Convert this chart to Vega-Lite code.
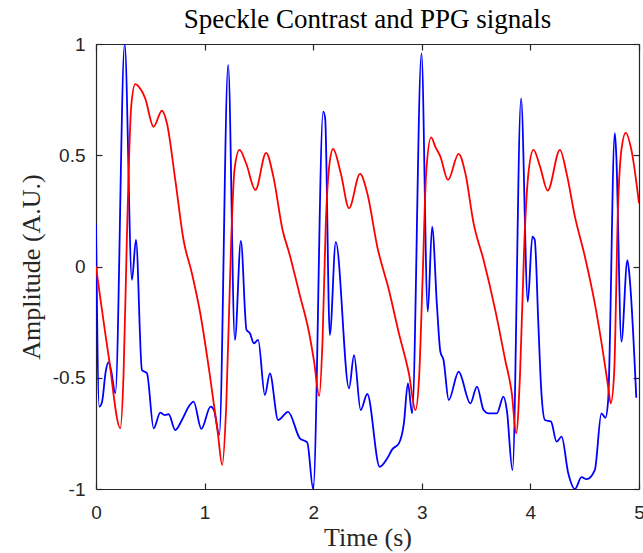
{
  "$schema": "https://vega.github.io/schema/vega-lite/v6.json",
  "width": 543,
  "height": 445,
  "autosize": {"type": "none"},
  "padding": {"left": 96, "top": 44, "right": 4, "bottom": 64},
  "background": "white",
  "title": {"text": "Speckle Contrast and PPG signals", "font": "Liberation Serif", "fontSize": 27, "fontWeight": "normal", "color": "#000000", "anchor": "middle", "frame": "group", "offset": 1},
  "config": {
    "view": {"stroke": null},
    "axis": {"domainColor": "#262626", "domainWidth": 1.2, "tickColor": "#262626", "tickWidth": 1.2, "tickSize": -6, "labelFlush": false, "labelColor": "#262626", "labelFont": "Liberation Sans", "labelFontSize": 19, "grid": false, "titleFont": "Liberation Serif", "titleFontSize": 26, "titleFontWeight": "normal", "titleColor": "#262626"}
  },
  "datasets": {
    "speckle": [
      {"t": 0, "v": 0.19}, {"t": 0.03, "v": -0.63}, {"t": 0.055, "v": -0.61}, {"t": 0.09, "v": -0.47}, {"t": 0.117, "v": -0.43}, {"t": 0.14, "v": -0.47}, {"t": 0.178, "v": -0.57},
      {"t": 0.264, "v": 1.0}, {"t": 0.331, "v": -0.06}, {"t": 0.368, "v": 0.12}, {"t": 0.423, "v": -0.465}, {"t": 0.469, "v": -0.48}, {"t": 0.531, "v": -0.727},
      {"t": 0.592, "v": -0.657}, {"t": 0.632, "v": -0.668}, {"t": 0.669, "v": -0.664}, {"t": 0.73, "v": -0.735}, {"t": 0.791, "v": -0.69}, {"t": 0.853, "v": -0.63},
      {"t": 0.899, "v": -0.607}, {"t": 0.97, "v": -0.73}, {"t": 1.055, "v": -0.63}, {"t": 1.086, "v": -0.645}, {"t": 1.135, "v": -0.757}, {"t": 1.217, "v": 0.906},
      {"t": 1.279, "v": -0.33}, {"t": 1.334, "v": 0.115}, {"t": 1.386, "v": -0.285}, {"t": 1.417, "v": -0.3}, {"t": 1.454, "v": -0.345}, {"t": 1.493, "v": -0.33},
      {"t": 1.555, "v": -0.578}, {"t": 1.601, "v": -0.48}, {"t": 1.677, "v": -0.69}, {"t": 1.769, "v": -0.653}, {"t": 1.877, "v": -0.772}, {"t": 1.945, "v": -0.79},
      {"t": 2.0, "v": -1.0}, {"t": 2.092, "v": 0.696}, {"t": 2.11, "v": 0.667}, {"t": 2.153, "v": -0.308}, {"t": 2.208, "v": 0.111}, {"t": 2.33, "v": -0.548},
      {"t": 2.376, "v": -0.398}, {"t": 2.437, "v": -0.645}, {"t": 2.498, "v": -0.573}, {"t": 2.612, "v": -0.9}, {"t": 2.682, "v": -0.862}, {"t": 2.728, "v": -0.822},
      {"t": 2.789, "v": -0.795}, {"t": 2.835, "v": -0.705}, {"t": 2.872, "v": -0.525}, {"t": 2.911, "v": -0.66}, {"t": 2.997, "v": 0.958}, {"t": 3.055, "v": -0.203},
      {"t": 3.095, "v": 0.179}, {"t": 3.14, "v": -0.18}, {"t": 3.171, "v": -0.383}, {"t": 3.2, "v": -0.42}, {"t": 3.248, "v": -0.6}, {"t": 3.339, "v": -0.473},
      {"t": 3.447, "v": -0.615}, {"t": 3.508, "v": -0.54}, {"t": 3.569, "v": -0.645}, {"t": 3.615, "v": -0.66}, {"t": 3.691, "v": -0.66}, {"t": 3.752, "v": -0.585},
      {"t": 3.783, "v": -0.645}, {"t": 3.835, "v": -0.915}, {"t": 3.914, "v": 0.756}, {"t": 3.976, "v": -0.158}, {"t": 4.018, "v": 0.134}, {"t": 4.04, "v": 0.12},
      {"t": 4.073, "v": -0.255}, {"t": 4.098, "v": -0.54}, {"t": 4.134, "v": -0.69}, {"t": 4.19, "v": -0.697}, {"t": 4.241, "v": -0.787}, {"t": 4.287, "v": -0.765},
      {"t": 4.349, "v": -0.93}, {"t": 4.41, "v": -1.0}, {"t": 4.471, "v": -0.947}, {"t": 4.517, "v": -0.956}, {"t": 4.593, "v": -0.915}, {"t": 4.654, "v": -0.66},
      {"t": 4.691, "v": -0.68}, {"t": 4.716, "v": -0.6}, {"t": 4.777, "v": 0.599}, {"t": 4.79, "v": 0.51}, {"t": 4.838, "v": -0.338}, {"t": 4.893, "v": 0.029},
      {"t": 4.91, "v": -0.03}, {"t": 4.975, "v": -0.59}
    ],
    "ppg": [
      {"t": 0.0, "v": 0.0}, {"t": 0.117, "v": -0.405}, {"t": 0.224, "v": -0.727}, {"t": 0.254, "v": -0.48}, {"t": 0.284, "v": 0.12}, {"t": 0.324, "v": 0.718},
      {"t": 0.361, "v": 0.82}, {"t": 0.416, "v": 0.793}, {"t": 0.453, "v": 0.756}, {"t": 0.53, "v": 0.628}, {"t": 0.607, "v": 0.7}, {"t": 0.653, "v": 0.644},
      {"t": 0.73, "v": 0.389}, {"t": 0.806, "v": 0.119}, {"t": 0.883, "v": -0.03}, {"t": 0.96, "v": -0.21}, {"t": 1.046, "v": -0.48}, {"t": 1.122, "v": -0.75},
      {"t": 1.162, "v": -0.892}, {"t": 1.199, "v": -0.63}, {"t": 1.245, "v": 0.12}, {"t": 1.275, "v": 0.434}, {"t": 1.321, "v": 0.524}, {"t": 1.382, "v": 0.464},
      {"t": 1.468, "v": 0.344}, {"t": 1.566, "v": 0.511}, {"t": 1.633, "v": 0.404}, {"t": 1.718, "v": 0.164}, {"t": 1.78, "v": 0.059}, {"t": 1.872, "v": -0.12},
      {"t": 1.963, "v": -0.3}, {"t": 2.009, "v": -0.43}, {"t": 2.055, "v": -0.582}, {"t": 2.086, "v": -0.33}, {"t": 2.116, "v": 0.194}, {"t": 2.147, "v": 0.449},
      {"t": 2.183, "v": 0.528}, {"t": 2.254, "v": 0.419}, {"t": 2.33, "v": 0.262}, {"t": 2.431, "v": 0.416}, {"t": 2.498, "v": 0.329}, {"t": 2.59, "v": 0.089},
      {"t": 2.697, "v": -0.106}, {"t": 2.789, "v": -0.3}, {"t": 2.881, "v": -0.48}, {"t": 2.942, "v": -0.645}, {"t": 2.975, "v": -0.5}, {"t": 3.009, "v": -0.03},
      {"t": 3.04, "v": 0.419}, {"t": 3.086, "v": 0.58}, {"t": 3.125, "v": 0.538}, {"t": 3.171, "v": 0.494}, {"t": 3.241, "v": 0.389}, {"t": 3.339, "v": 0.506},
      {"t": 3.401, "v": 0.419}, {"t": 3.477, "v": 0.194}, {"t": 3.569, "v": 0.029}, {"t": 3.676, "v": -0.195}, {"t": 3.768, "v": -0.42}, {"t": 3.829, "v": -0.57},
      {"t": 3.869, "v": -0.75}, {"t": 3.905, "v": -0.48}, {"t": 3.945, "v": 0.12}, {"t": 3.982, "v": 0.42}, {"t": 4.028, "v": 0.524}, {"t": 4.089, "v": 0.449},
      {"t": 4.159, "v": 0.341}, {"t": 4.272, "v": 0.524}, {"t": 4.333, "v": 0.419}, {"t": 4.41, "v": 0.224}, {"t": 4.502, "v": 0.044}, {"t": 4.593, "v": -0.166},
      {"t": 4.67, "v": -0.39}, {"t": 4.716, "v": -0.54}, {"t": 4.74, "v": -0.615}, {"t": 4.771, "v": -0.48}, {"t": 4.807, "v": 0.269}, {"t": 4.838, "v": 0.524},
      {"t": 4.878, "v": 0.601}, {"t": 4.93, "v": 0.524}, {"t": 5.0, "v": 0.284}
    ]
  },
  "layer": [
    {
      "data": {"name": "speckle"},
      "mark": {"type": "line", "interpolate": "monotone", "color": "#0000FF", "strokeWidth": 1.8, "clip": true},
      "encoding": {
        "x": {"field": "t", "type": "quantitative", "scale": {"domain": [0, 5], "nice": false, "zero": false},
              "axis": {"orient": "bottom", "title": "Time (s)", "values": [0, 1, 2, 3, 4, 5], "format": "d", "labelPadding": 20, "titlePadding": 2}},
        "y": {"field": "v", "type": "quantitative", "scale": {"domain": [-1, 1], "nice": false},
              "axis": {"orient": "left", "title": "Amplitude (A.U.)", "values": [-1, -0.5, 0, 0.5, 1], "labelExpr": "'' + datum.value", "labelPadding": 17, "titlePadding": 8}}
      }
    },
    {
      "data": {"name": "ppg"},
      "mark": {"type": "line", "interpolate": "monotone", "color": "#FF0000", "strokeWidth": 1.8, "clip": true},
      "encoding": {
        "x": {"field": "t", "type": "quantitative", "scale": {"domain": [0, 5], "nice": false, "zero": false},
              "axis": {"orient": "top", "title": null, "labels": false, "values": [0, 1, 2, 3, 4, 5]}},
        "y": {"field": "v", "type": "quantitative", "scale": {"domain": [-1, 1], "nice": false},
              "axis": {"orient": "right", "title": null, "labels": false, "values": [-1, -0.5, 0, 0.5, 1]}}
      }
    }
  ],
  "resolve": {"axis": {"x": "independent", "y": "independent"}}
}
